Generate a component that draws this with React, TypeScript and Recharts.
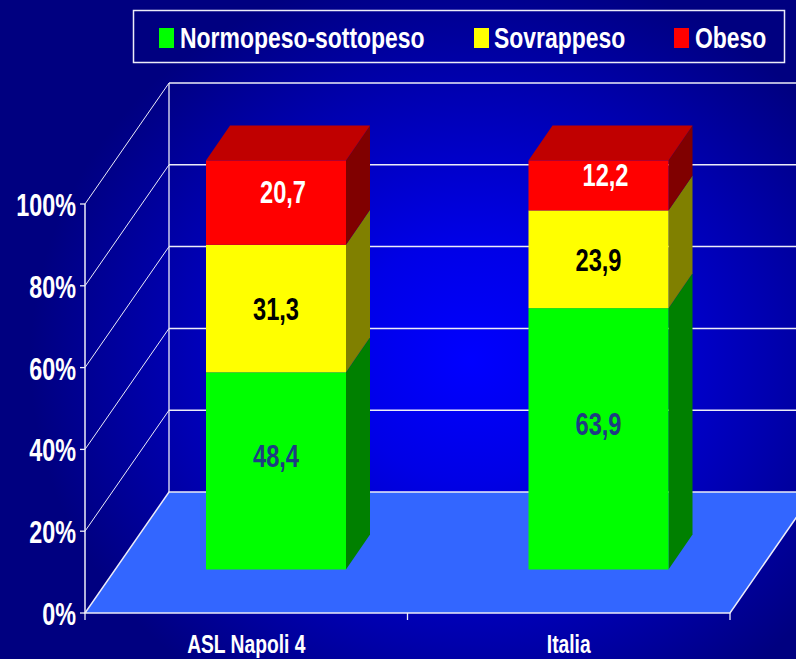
import React from 'react';
import { BarChart, Bar, XAxis, YAxis, CartesianGrid, Legend, LabelList } from 'recharts';

// ---- data ----
const categories = ['ASL Napoli 4', 'Italia'];
const normopeso = [48.4, 63.9];
const sovrappeso = [31.3, 23.9];
const obeso = [20.7, 12.2];
const yTicks = [0, 20, 40, 60, 80, 100];
const seriesNames = ['Normopeso-sottopeso', 'Sovrappeso', 'Obeso'];

const data = categories.map((c, i) => ({
  name: c,
  normo: normopeso[i],
  sovra: sovrappeso[i],
  obeso: obeso[i],
}));

// ---- layout / style ----
const W = 796;
const H = 659;
const MARGIN = { top: 204, right: 66, bottom: 0, left: 0 };
const Y_AXIS_W = 85;
const X_AXIS_H = 46;
const PLOT_TOP = MARGIN.top;
const PLOT_BOTTOM = H - MARGIN.bottom - X_AXIS_H;

const DX = 84; // wall depth
const DY = -121;
const OX = 30; // bar front face offset inside depth
const OY = -43.5;
const BDX = 24; // bar depth
const BDY = -35;

const FONT = "'Liberation Sans', Arial, Helvetica, sans-serif";
const LINE = '#ECECF8';
const BG =
  'radial-gradient(ellipse 440px 400px at 470px 360px, #0000FF 0%, #0000E6 30%, #0000B0 68%, #000080 100%)';

function NarrowText({ x, y, size, sx, fill, anchor, children }: any) {
  return (
    <g transform={`translate(${x},${y}) scale(${sx},1)`}>
      <text x={0} y={0} textAnchor={anchor} fill={fill} fontSize={size} fontWeight="bold" fontFamily={FONT}>
        {children}
      </text>
    </g>
  );
}

const renderGridLine = (p: any) => {
  const { x1, x2, y1 } = p;
  const key = p.key ?? `g-${y1}`;
  const bx = x1 + DX;
  const by = y1 + DY;
  if (Math.abs(y1 - PLOT_BOTTOM) < 1) {
    const pts = `${x1},${y1} ${x2},${y1} ${x2 + DX},${by} ${bx},${by}`;
    const mid = (x1 + x2) / 2;
    return (
      <g key={key}>
        <polygon points={pts} fill="#3366FF" stroke={LINE} strokeWidth={1.5} />
        <line x1={bx} y1={by} x2={bx} y2={PLOT_TOP + DY} stroke={LINE} strokeWidth={1.3} />
        {[x1, mid, x2].map((tx, i) => (
          <line key={i} x1={tx} y1={y1} x2={tx} y2={y1 + 7} stroke={LINE} strokeWidth={1.3} />
        ))}
      </g>
    );
  }
  return (
    <g key={key}>
      <line x1={x1} y1={y1} x2={bx} y2={by} stroke={LINE} strokeWidth={1} />
      <line x1={bx} y1={by} x2={W + 40} y2={by} stroke={LINE} strokeWidth={1.5} />
    </g>
  );
};

const renderYTick = (p: any) => (
  <NarrowText x={p.x} y={p.y + 12} size={32} sx={0.73} fill="#FFFFFF" anchor="end">
    {`${Math.round(p.payload.value * 100)}%`}
  </NarrowText>
);

const renderXTick = (p: any) => (
  <NarrowText x={p.x} y={653} size={26} sx={0.74} fill="#FFFFFF" anchor="middle">
    {p.payload.value}
  </NarrowText>
);

const make3D = (front: string, side: string, top?: string) => (p: any) => {
  const { x, y, width, height } = p;
  if (width == null || height == null) return <g />;
  const h = Math.abs(height);
  const yy = height < 0 ? y + height : y;
  const fx = x + OX;
  const fy = yy + OY;
  const w = width;
  const sidePts = `${fx + w},${fy} ${fx + w + BDX},${fy + BDY} ${fx + w + BDX},${fy + h + BDY} ${fx + w},${fy + h}`;
  const topPts = `${fx},${fy} ${fx + BDX},${fy + BDY} ${fx + w + BDX},${fy + BDY} ${fx + w},${fy}`;
  return (
    <g>
      <polygon points={sidePts} fill={side} />
      {top ? <polygon points={topPts} fill={top} /> : null}
      <rect x={fx} y={fy} width={w} height={h} fill={front} />
    </g>
  );
};

const makeLabel = (color: string, offX: number, offY: number) => (p: any) => {
  const vb = p.viewBox || p;
  const x = vb.x;
  const y = vb.height < 0 ? vb.y + vb.height : vb.y;
  const h = Math.abs(vb.height);
  const cx = x + vb.width / 2 + OX + offX;
  const cy = y + h / 2 + OY + offY;
  const txt = Number(p.value).toFixed(1).replace('.', ',');
  return (
    <NarrowText x={cx} y={cy + 11.5} size={32} sx={0.74} fill={color} anchor="middle">
      {txt}
    </NarrowText>
  );
};

const LEGEND_SQ_X = [27, 342, 542];
const LEGEND_TX_X = [48, 362, 563];

const renderLegend = (props: any) => {
  const raw = props.payload || [];
  const payload = seriesNames
    .map((n) => raw.find((it: any) => it.value === n))
    .filter(Boolean);
  return (
    <svg width={660} height={58} style={{ display: 'block', overflow: 'visible' }}>
      <rect x={1.5} y={1.5} width={651} height={52} fill="none" stroke={LINE} strokeWidth={1.5} />
      {payload.map((it: any, i: number) => (
        <g key={i}>
          <rect x={LEGEND_SQ_X[i]} y={19} width={15} height={20} fill={it.color} />
          <NarrowText x={LEGEND_TX_X[i]} y={39.3} size={30} sx={0.765} fill="#FFFFFF" anchor="start">
            {it.value}
          </NarrowText>
        </g>
      ))}
    </svg>
  );
};

export default function App() {
  return (
    <div style={{ position: 'absolute', left: 0, top: 0, width: W, height: H, background: BG, overflow: 'hidden' }}>
      <BarChart
        width={W}
        height={H}
        data={data}
        stackOffset="expand"
        margin={MARGIN}
        barSize={140}
      >
        <CartesianGrid horizontal={renderGridLine} vertical={false} />
        <XAxis
          dataKey="name"
          height={X_AXIS_H}
          axisLine={false}
          tickLine={false}
          tick={renderXTick}
          interval={0}
        />
        <YAxis
          width={Y_AXIS_W}
          domain={[0, 1]}
          ticks={yTicks.map((t) => t / 100)}
          tick={renderYTick}
          tickSize={5}
          tickMargin={4}
          axisLine={{ stroke: LINE, strokeWidth: 1.5 }}
          tickLine={{ stroke: LINE, strokeWidth: 1.3 }}
        />
        <Legend
          verticalAlign="middle"
          align="center"
          wrapperStyle={{ top: 9, left: 132, width: 660, height: 58 }}
          content={renderLegend}
        />
        <Bar dataKey="normo" name={seriesNames[0]} stackId="a" fill="#00FF00" shape={make3D('#00FF00', '#008000')} isAnimationActive={false}>
          <LabelList dataKey="normo" content={makeLabel('#1E3C82', 0, -15)} />
        </Bar>
        <Bar dataKey="sovra" name={seriesNames[1]} stackId="a" fill="#FFFF00" shape={make3D('#FFFF00', '#808000')} isAnimationActive={false}>
          <LabelList dataKey="sovra" content={makeLabel('#000000', 0, 0)} />
        </Bar>
        <Bar dataKey="obeso" name={seriesNames[2]} stackId="a" fill="#FF0000" shape={make3D('#FF0000', '#800000', '#C00000')} isAnimationActive={false}>
          <LabelList dataKey="obeso" content={makeLabel('#FFFFFF', 7, -11)} />
        </Bar>
      </BarChart>
    </div>
  );
}
